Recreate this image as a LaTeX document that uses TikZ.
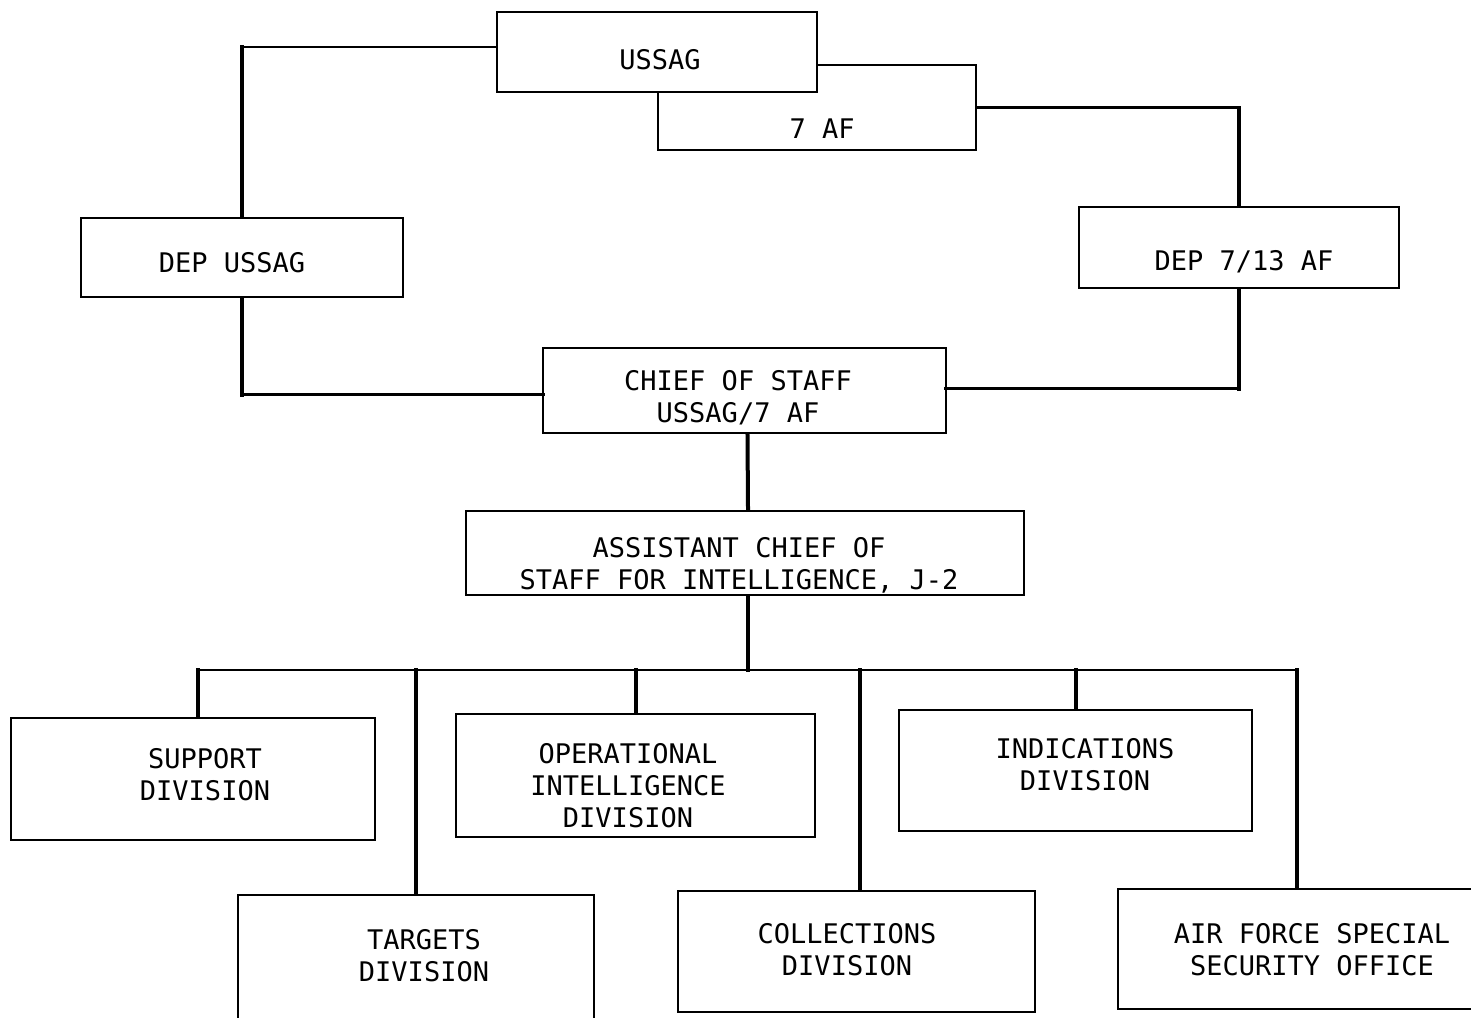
\documentclass[tikz,border=0pt]{standalone}
\usepackage{fontspec}
\newfontfamily\chartfont{DejaVu Sans Mono}
\begin{document}
\begin{tikzpicture}[x=1pt,y=-1pt,
  box/.style={draw=black, line width=2pt, fill=white, inner sep=0pt},
  lbl/.style={align=center, inner sep=0pt, font=\chartfont\fontsize{27}{32}\selectfont},
  hconn/.style={draw=black, line width=2.6pt, line cap=rect},
  vconn/.style={draw=black, line width=4pt, line cap=rect}]
\fill[white] (0,0) rectangle (1471,1017);
\useasboundingbox (0,0) rectangle (1471,1017);
% top pair
\node[box, minimum width=318pt, minimum height=85pt] (af) at (817,107.5) {};
\node[box, minimum width=320pt, minimum height=80pt] (ussag) at (657,52) {};
\node[lbl] (tussag) at (660,60) {USSAG};
\node[lbl] (taf) at (822,129) {7 AF};
% deputies
\node[box, minimum width=322pt, minimum height=79pt] (depussag) at (242,257.5) {};
\node[lbl] (tdepussag) at (232,263) {DEP USSAG};
\node[box, minimum width=320pt, minimum height=81pt] (dep) at (1239,247.5) {};
\node[lbl] (tdep) at (1244,262) {DEP 7/13 AF};
% chief of staff
\node[box, minimum width=403pt, minimum height=85pt] (chief) at (744.5,390.5) {};
\node[lbl] (tchief) at (738,397.5) {CHIEF OF STAFF\\USSAG/7 AF};
% ACS J-2
\node[box, minimum width=558pt, minimum height=84pt] (asst) at (745,553) {};
\node[lbl] (tasst) at (739,565.5) {ASSISTANT CHIEF OF\\STAFF FOR INTELLIGENCE, J-2};
% divisions
\node[box, minimum width=364pt, minimum height=122pt] (support) at (193,779) {};
\node[lbl] (tsupport) at (205,775) {SUPPORT\\DIVISION};
\node[box, minimum width=359pt, minimum height=123pt] (oper) at (635.5,775.5) {};
\node[lbl] (toper) at (628,785.5) {OPERATIONAL\\INTELLIGENCE\\DIVISION};
\node[box, minimum width=353pt, minimum height=121pt] (indic) at (1075.5,770.5) {};
\node[lbl] (tindic) at (1085,765) {INDICATIONS\\DIVISION};
\node[box, minimum width=356pt, minimum height=125pt] (targets) at (416,957.5) {};
\node[lbl] (ttargets) at (424,955.5) {TARGETS\\DIVISION};
\node[box, minimum width=357pt, minimum height=121pt] (coll) at (856.5,951.5) {};
\node[lbl] (tcoll) at (847,950) {COLLECTIONS\\DIVISION};
\node[box, minimum width=362pt, minimum height=120pt] (afsso) at (1299,949) {};
\node[lbl] (tafsso) at (1312,949.5) {AIR FORCE SPECIAL\\SECURITY OFFICE};
% connectors: USSAG - DEP USSAG - CHIEF
\coordinate (c1) at ([yshift=5pt]ussag.west -| depussag.north);
\draw[hconn] ([yshift=5pt,xshift=-1.3pt]ussag.west) -- (c1);
\draw[vconn] (c1) -- ([yshift=2pt]depussag.north);
\coordinate (c2) at ([yshift=-4pt]chief.west -| depussag.south);
\draw[vconn] ([yshift=-2pt]depussag.south) -- (c2);
\draw[hconn] (c2) -- ([yshift=-4pt,xshift=1.3pt]chief.west);
% 7 AF - DEP 7/13 AF - CHIEF
\coordinate (c3) at (af.east -| dep.north);
\draw[hconn] ([xshift=1.3pt]af.east) -- (c3);
\draw[vconn] (c3) -- ([yshift=2pt]dep.north);
\coordinate (c4) at ([yshift=2pt]chief.east -| dep.south);
\draw[vconn] ([yshift=-2pt]dep.south) -- (c4);
\draw[hconn] (c4) -- ([yshift=2pt,xshift=-1.3pt]chief.east);
% CHIEF - ACS
\draw[vconn] ([xshift=3pt,yshift=-2pt]chief.south) -- ([xshift=3pt,yshift=2pt]asst.north);
% bus
\coordinate (bus) at (748,670);
\draw[vconn] ([xshift=3pt,yshift=-2pt]asst.south) -- (bus);
\coordinate (bl) at ([xshift=5pt]support.north |- bus);
\coordinate (br) at ([xshift=-2pt]afsso.north |- bus);
\draw[hconn] (bl) -- (br);
\draw[vconn] (bl) -- ([xshift=5pt,yshift=2pt]support.north);
\draw[vconn] (br) -- ([xshift=-2pt,yshift=2pt]afsso.north);
\draw[vconn] (targets.north |- bus) -- ([yshift=2pt]targets.north);
\draw[vconn] (oper.north |- bus) -- ([yshift=2pt]oper.north);
\draw[vconn] ([xshift=3pt]coll.north |- bus) -- ([xshift=3pt,yshift=2pt]coll.north);
\draw[vconn] (indic.north |- bus) -- ([yshift=2pt]indic.north);
\end{tikzpicture}
\end{document}
